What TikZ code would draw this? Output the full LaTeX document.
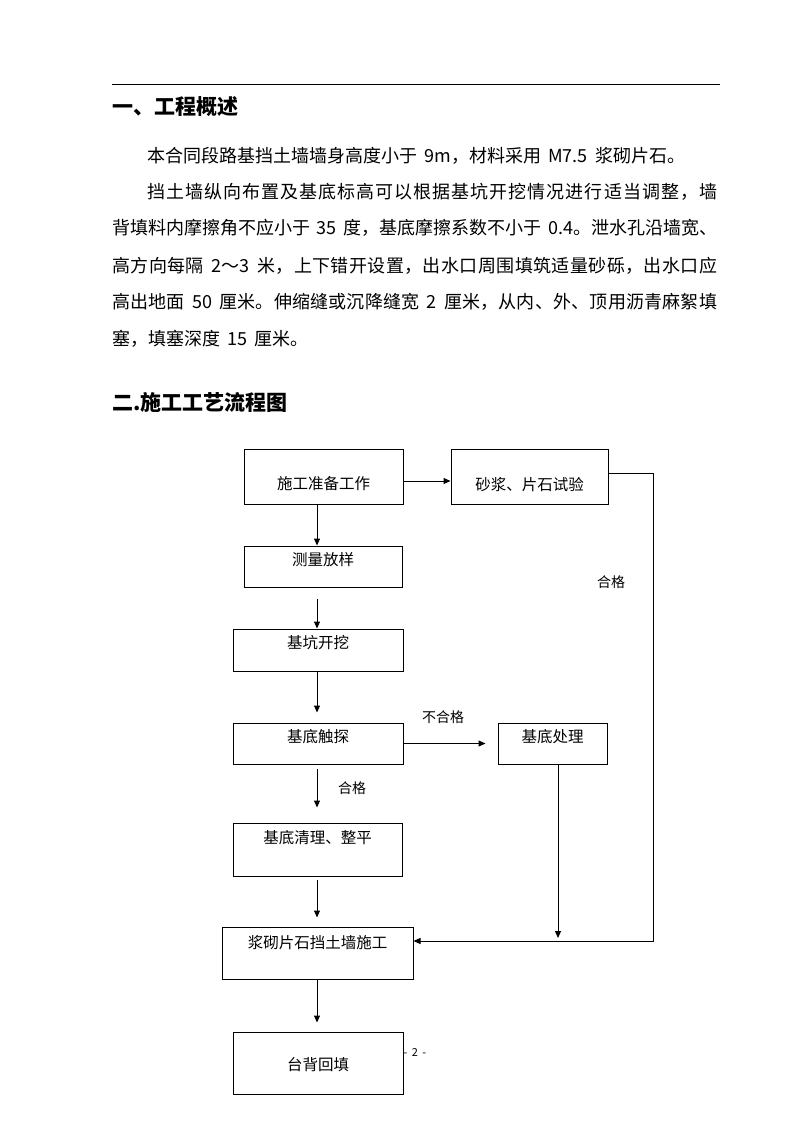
\documentclass[tikz,border=0pt]{standalone}
\usepackage{fontspec}
\setmainfont{Noto Sans CJK SC}[WordSpace=1.8]
\usetikzlibrary{arrows.meta,calc}
% glue between Chinese characters, for the justified lines
\newXeTeXintercharclass\cjkclass
\newcount\cjkcode
\newcommand{\setcjkrange}[2]{\cjkcode=#1\relax\loop\XeTeXcharclass\cjkcode=\cjkclass\relax\ifnum\cjkcode<#2\relax\advance\cjkcode by 1\relax\repeat}
\setcjkrange{"3000}{"303F}
\setcjkrange{"4E00}{"9FFF}
\setcjkrange{"FF00}{"FFEF}
\XeTeXinterchartoks\cjkclass\cjkclass={\hskip 0pt plus 1fil\relax}
\XeTeXinterchartoks 0 \cjkclass={\hskip 0pt plus 1fil\relax}
\XeTeXinterchartoks\cjkclass 0 ={\hskip 0pt plus 1fil\relax}
\newcommand{\justline}[2]{\hbox to #1{\XeTeXinterchartokenstate=1 #2}}
% text inside a box, raised by #1 from the box centre
\newcommand{\boxtext}[2]{\raisebox{\dimexpr#1pt-0.38em\relax}[0pt][0pt]{#2}}

\begin{document}
\begin{tikzpicture}[x=1pt,y=-1pt,
    flowbox/.style={draw,line width=1pt,inner sep=0pt,font=\fontsize{15.5}{18}\selectfont},
    flowarrow/.style={line width=1pt,-{Triangle[length=7pt,width=6pt]}},
    flowlabel/.style={inner sep=0pt,font=\fontsize{14}{16}\selectfont},
    para/.style={anchor=base west,inner sep=0pt,font=\fontsize{18}{20}\selectfont},
    heading/.style={anchor=base west,inner sep=0pt,font=\fontsize{21}{24}\selectfont\bfseries}]
            \fill[white] (0,0) rectangle (794,1123);
            \useasboundingbox (0,0) rectangle (794,1123);

            \draw[line width=0.8pt] (112,84) -- (720,84);

            \node[heading] (h1) at (112,115) {一、工程概述};
            \node[para] (p1) at (147,163) {本合同段路基挡土墙墙身高度小于 9m，材料采用 M7.5 浆砌片石。};
            \node[para] (p2) at (147,199) {\justline{570pt}{挡土墙纵向布置及基底标高可以根据基坑开挖情况进行适当调整，墙}};
            \node[para] (p3) at (112,235) {\justline{605pt}{背填料内摩擦角不应小于 35 度，基底摩擦系数不小于 0.4。泄水孔沿墙宽、}};
            \node[para] (p4) at (112,272) {\justline{605pt}{高方向每隔 2～3 米，上下错开设置，出水口周围填筑适量砂砾，出水口应}};
            \node[para] (p5) at (112,308) {\justline{605pt}{高出地面 50 厘米。伸缩缝或沉降缝宽 2 厘米，从内、外、顶用沥青麻絮填}};
            \node[para] (p6) at (112,345) {塞，填塞深度 15 厘米。};
            \node[heading] (h2) at (112,410) {二.施工工艺流程图};

            % boxes of the flow chart
            \node[flowbox,minimum width=159pt,minimum height=55pt] (prep) at (323.5,476.5) {\boxtext{-7.5}{施工准备工作}};
            \node[flowbox,minimum width=157pt,minimum height=55pt] (test) at (529.5,476.5) {\boxtext{-8.5}{砂浆、片石试验}};
            \node[flowbox,minimum width=158pt,minimum height=41pt] (survey) at (323,566.5) {\boxtext{6.5}{测量放样}};
            \node[flowbox,minimum width=170pt,minimum height=42pt] (dig) at (318,650) {\boxtext{7}{基坑开挖}};
            \node[flowbox,minimum width=170pt,minimum height=41pt] (probe) at (318,743.5) {\boxtext{6.5}{基底触探}};
            \node[flowbox,minimum width=109pt,minimum height=41pt] (treat) at (552.5,743.5) {\boxtext{6.5}{基底处理}};
            \node[flowbox,minimum width=169pt,minimum height=53pt] (clean) at (317.5,849.5) {\boxtext{11.5}{基底清理、整平}};
            \node[flowbox,minimum width=191pt,minimum height=52pt] (wall) at (317.5,953) {\boxtext{10}{浆砌片石挡土墙施工}};
            \node[flowbox,minimum width=170pt,minimum height=62pt] (back) at (318,1063) {\boxtext{-2}{台背回填}};

            \node[flowlabel] (pass1) at (611,582) {合格};
            \node[flowlabel] (fail) at (443,717) {不合格};
            \node[flowlabel] (pass2) at (352,788) {合格};

            \coordinate (axis) at (317,0);
            \coordinate (rc) at (653,941);

            \draw[flowarrow] (prep.south -| axis) -- (survey.north -| axis);
            \draw[flowarrow] ([yshift=-4.5pt]prep.east) -- ([yshift=-4.5pt]test.west);
            \draw[flowarrow, shorten <=11pt] (survey.south -| axis) -- (dig.north -| axis);
            \draw[flowarrow, shorten >=10pt] (dig.south -| axis) -- (probe.north -| axis);
            \draw[flowarrow, shorten >=12pt] (probe.east) -- (treat.west);
            \draw[flowarrow, shorten <=4pt, shorten >=15pt] (probe.south -| axis) -- (clean.north -| axis);
            \draw[flowarrow, shorten <=3pt, shorten >=9pt] (clean.south -| axis) -- (wall.north -| axis);
            \draw[flowarrow, shorten >=9pt] (wall.south -| axis) -- (back.north -| axis);
            \draw[flowarrow, shorten >=3pt] ([xshift=5.5pt]treat.south) -- ([xshift=5.5pt]treat.south |- rc);
            \draw[flowarrow] ([yshift=3.5pt]test.east) -| (rc) -- (rc -| wall.east);

            \node[inner sep=0pt,font=\fontsize{11}{13}\selectfont] (pg) at (415,1052) {- 2 -};

        \end{tikzpicture}
\end{document}
